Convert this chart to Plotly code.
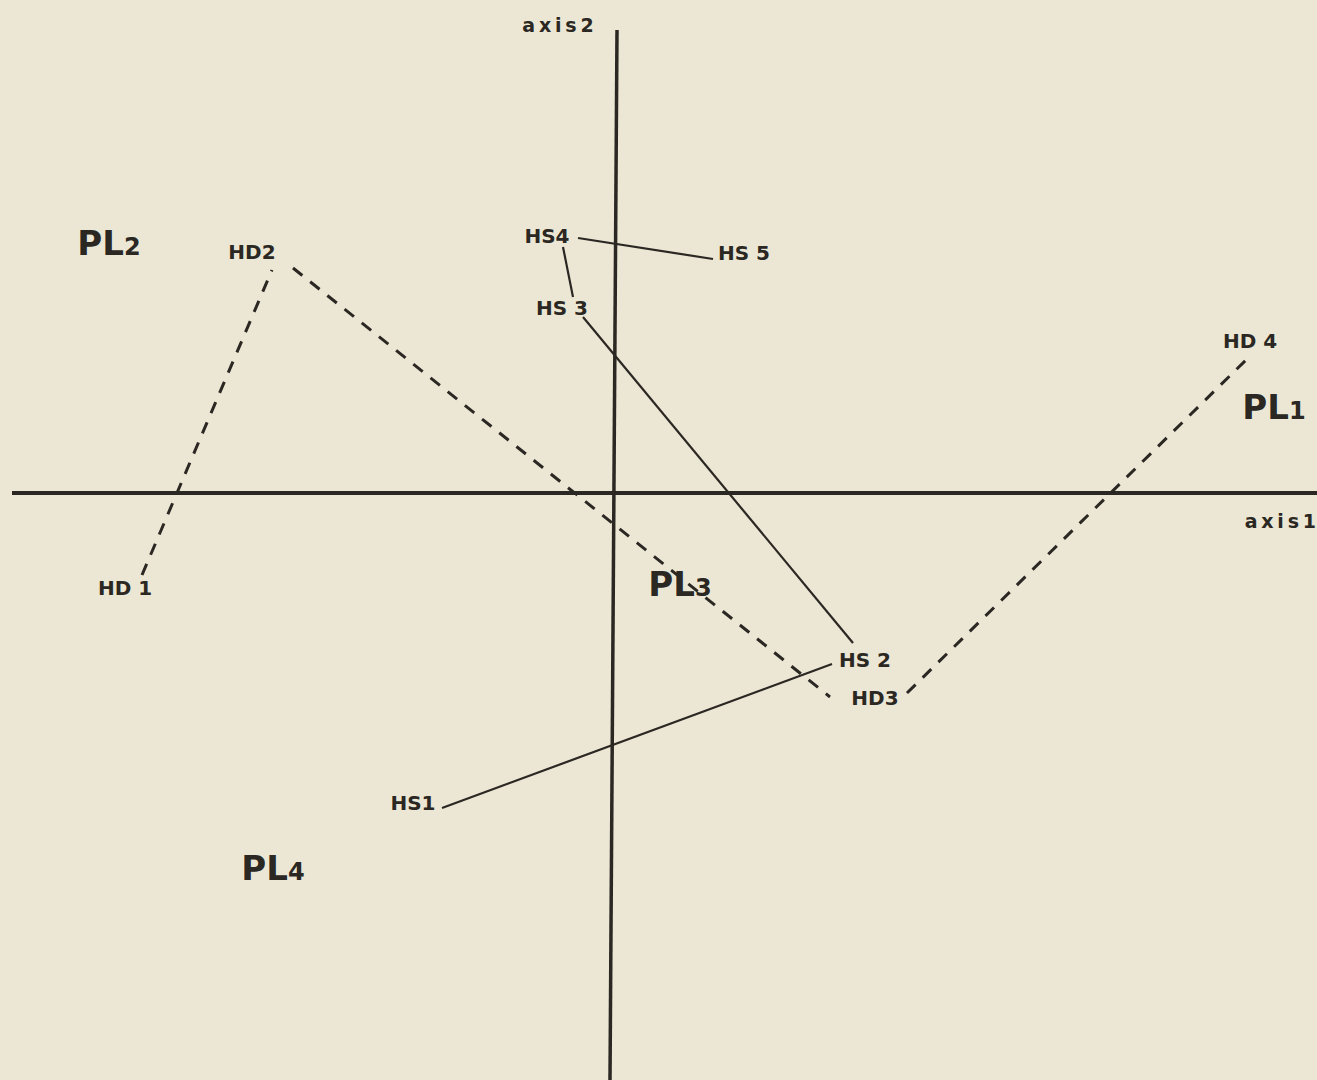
import plotly.graph_objects as go

# ---- data (chart units; origin at the axes crossing) ----
# dashed HD path, drawn as separate segments (gaps around labels)
hd_seg_x = [-4.73, -3.43, None, -3.22, 2.15, None, 2.92, 6.32]
hd_seg_y = [-0.82, 2.23, None, 2.25, -2.04, None, -2.00, 1.34]

# solid HS path, drawn as separate segments
hs_seg_x = [-1.73, 2.17, None, 2.38, -0.32, None, -0.42, -0.52, None, -0.37, 0.98]
hs_seg_y = [-3.15, -1.71, None, -1.50, 1.76, None, 1.96, 2.46, None, 2.55, 2.34]

# point labels
pt_labels = ["HD 1", "HD2", "HD3", "HD 4", "HS1", "HS 2", "HS 3", "HS4", "HS 5"]
pt_x = [-4.90, -3.63, 2.60, 6.35, -2.02, 2.50, -0.53, -0.68, 1.29]
pt_y = [-0.97, 2.39, -2.07, 1.50, -3.12, -1.69, 1.83, 2.55, 2.38]

# plane labels
pl_names = ["PL", "PL", "PL", "PL"]
pl_nums = ["1", "2", "3", "4"]
pl_x = [6.59, -5.06, 0.65, -3.42]
pl_y = [0.83, 2.47, -0.94, -3.78]

# axes
axis1_x = [-6.03, 7.02]
axis1_y = [0.0, 0.0]
axis2_x = [0.02, -0.05]
axis2_y = [4.63, -5.87]
axis_names = ["a\u2009x\u2009i\u2009s\u20091", "a\u2009x\u2009i\u2009s\u20092"]
axis_lab_x = [7.01, -0.57]
axis_lab_y = [-0.30, 4.66]
axis_lab_pos = ["middle left", "middle center"]

X_RANGE = [-6.15, 7.02]
Y_RANGE = [-5.87, 4.93]

BG = "#ECE7D5"
INK = "#2B2722"
FONT = "DejaVu Sans"

fig = go.Figure()

# axes lines
fig.add_trace(go.Scatter(x=axis1_x, y=axis1_y, mode="lines",
                         line=dict(color=INK, width=4), hoverinfo="skip"))
fig.add_trace(go.Scatter(x=axis2_x, y=axis2_y, mode="lines",
                         line=dict(color=INK, width=3.5), hoverinfo="skip"))

# dashed HD path
fig.add_trace(go.Scatter(x=hd_seg_x, y=hd_seg_y, mode="lines", connectgaps=False,
                         line=dict(color=INK, width=3, dash="12px,10px"),
                         hoverinfo="skip"))
# solid HS path
fig.add_trace(go.Scatter(x=hs_seg_x, y=hs_seg_y, mode="lines", connectgaps=False,
                         line=dict(color=INK, width=2.2), hoverinfo="skip"))

# point labels
fig.add_trace(go.Scatter(x=pt_x, y=pt_y, mode="text", text=pt_labels,
                         textposition="middle center",
                         textfont=dict(family=FONT, size=20, color=INK, weight="bold"),
                         hoverinfo="skip"))

# plane labels
pl_text = [f"{n}<span style='font-size:24px'>{d}</span>" for n, d in zip(pl_names, pl_nums)]
fig.add_trace(go.Scatter(x=pl_x, y=pl_y, mode="text", text=pl_text,
                         textposition="middle center",
                         textfont=dict(family=FONT, size=34, color=INK, weight="bold"),
                         hoverinfo="skip"))

# axis labels
fig.add_trace(go.Scatter(x=axis_lab_x, y=axis_lab_y, mode="text", text=axis_names,
                         textposition=axis_lab_pos,
                         textfont=dict(family=FONT, size=19, color=INK, weight="bold"),
                         hoverinfo="skip"))

fig.update_layout(
    width=1317, height=1080,
    margin=dict(l=0, r=0, t=0, b=0),
    paper_bgcolor=BG, plot_bgcolor=BG,
    showlegend=False,
    xaxis=dict(range=X_RANGE, visible=False, fixedrange=True),
    yaxis=dict(range=Y_RANGE, visible=False, fixedrange=True),
)

fig.write_html("out.html",
               config={"displayModeBar": False, "staticPlot": True},
               post_script="document.body.style.margin='0';document.body.style.overflow='hidden';")
